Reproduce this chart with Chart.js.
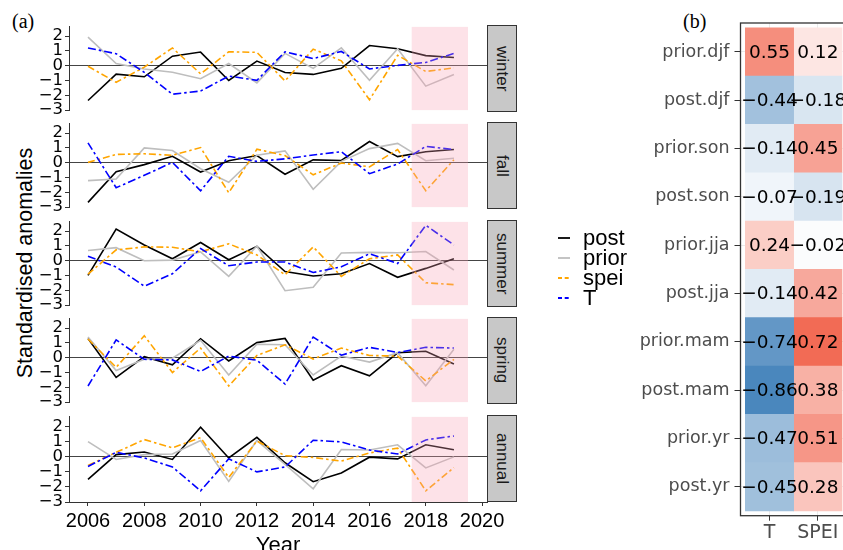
<!DOCTYPE html>
<html>
<head>
<meta charset="utf-8">
<script src="https://cdn.jsdelivr.net/npm/chart.js@4.4.1/dist/chart.umd.min.js"></script>
<style>
html,body{margin:0;padding:0;background:#fff;}
body{width:843px;height:550px;overflow:hidden;position:relative;font-family:"Liberation Sans",Arial,sans-serif;}
canvas{position:absolute;}
.strip{position:absolute;left:487px;width:30px;height:87px;background:#c8c8c8;border:1px solid #333;box-sizing:border-box;
  writing-mode:vertical-rl;display:flex;align-items:center;justify-content:center;font-size:17px;color:#1a1a1a;}
.tag{position:absolute;font-family:"Liberation Serif",serif;font-size:20px;line-height:24px;}
.ytitle{position:absolute;left:25px;top:263px;transform:translate(-50%,-50%) rotate(-90deg);white-space:nowrap;font-size:21.5px;}
.leg{position:absolute;left:558px;height:20px;display:flex;align-items:center;}
.leg span{margin-left:13px;font-size:22px;line-height:20px;}
</style>
</head>
<body>
<div class="tag" style="left:12px;top:9px">(a)</div>
<div class="tag" style="left:683px;top:9px">(b)</div>
<div class="ytitle">Standardised anomalies</div>
<script>
// ---- data (a) ----
const years = [2006,2007,2008,2009,2010,2011,2012,2013,2014,2015,2016,2017,2018,2019];
const seasons = ['winter','fall','summer','spring','annual'];
const seriesNames = ['post','prior','spei','T'];
const xTicks = [2006,2008,2010,2012,2014,2016,2018,2020];
const yTicks = [-3,-2,-1,0,1,2];
const shadeFrom = 2017.5, shadeTo = 2019.5;

const winterPost  = [-2.35,-0.57,-0.75,0.64,0.92,-1.00,0.31,-0.46,-0.59,-0.18,1.36,1.14,0.68,0.55];
const winterPrior = [1.93,0.15,-0.22,-0.44,-0.88,0.15,-1.16,0.83,-0.18,1.20,-0.99,1.14,-1.38,-0.59];
const winterSpei  = [-0.04,-1.12,-0.10,1.20,-0.55,0.94,0.90,-1.03,1.12,0.33,-2.30,0.70,-0.39,-0.15];
const winterT     = [1.20,0.81,-0.45,-1.93,-1.71,-0.70,-0.99,0.94,0.48,0.96,-0.22,0.02,0.22,0.83];

const fallPost  = [-2.68,-0.61,-0.13,0.43,-0.63,0.13,0.48,-0.78,0.19,0.15,1.43,0.41,0.74,0.89];
const fallPrior = [-1.21,-1.10,1.00,0.82,-0.41,-1.32,0.50,0.80,-1.80,0.09,0.95,1.30,0.13,0.30];
const fallSpei  = [0.02,0.56,0.60,0.50,1.02,-2.03,0.91,0.48,-0.82,-0.02,-0.28,0.89,-1.90,0.20];
const fallT     = [1.34,-1.69,-0.85,0.02,-1.90,0.43,0.09,0.26,0.52,0.74,-0.74,-0.09,1.10,0.89];

const summerPost  = [-0.99,2.13,1.06,0.13,1.23,0.06,0.97,-0.73,-1.03,-0.88,-0.19,-1.12,-0.52,0.13];
const summerPrior = [0.69,0.88,0.00,0.04,0.60,-1.06,0.99,-2.03,-1.79,0.52,0.56,0.54,0.62,-0.63];
const summerSpei  = [-0.91,0.73,0.93,0.91,0.60,1.14,0.39,-0.95,0.93,-1.06,0.13,0.39,-1.49,-1.62];
const summerT     = [0.30,-0.43,-1.72,-0.88,0.82,-0.34,-0.09,-0.09,-0.80,-0.41,0.47,-0.19,2.39,1.06];

const springPost  = [1.30,-1.33,0.07,-0.48,1.28,-0.22,1.02,1.30,-1.52,-0.54,-1.22,0.33,0.43,-0.43];
const springPrior = [1.39,-0.87,-0.11,-0.04,1.17,-1.17,0.91,0.87,-1.17,0.11,-0.30,0.33,-1.89,0.57];
const springSpei  = [1.26,-0.65,1.48,-1.00,0.65,-1.91,0.15,0.87,-0.09,0.65,0.15,0.11,-1.57,-0.11];
const springT     = [-1.91,1.20,-0.11,-0.15,-0.93,0.11,-0.17,-1.78,1.39,0.17,0.70,0.35,0.70,0.65];

const annualPost  = [-1.51,0.13,0.30,-0.19,1.94,-0.09,1.27,-0.41,-1.66,-1.08,-0.04,-0.15,0.78,0.45];
const annualPrior = [0.99,-0.19,0.13,0.17,1.06,-1.64,1.06,-0.52,-2.13,0.47,0.43,0.78,-0.75,-0.02];
const annualSpei  = [-0.58,0.28,1.12,0.58,1.25,-1.38,1.03,0.06,-0.06,-0.30,0.24,0.56,-2.26,-0.73];
const annualT     = [-0.65,0.28,-0.09,-0.69,-2.26,-0.15,-1.01,-0.69,1.08,0.97,0.43,0.17,1.10,1.36];

// ---- data (b) ----
const rowLabels = ['prior.djf','post.djf','prior.son','post.son','prior.jja','post.jja','prior.mam','post.mam','prior.yr','post.yr'];
const colLabels = ['T','SPEI'];
const tCorr    = [0.55,-0.44,-0.14,-0.07,0.24,-0.14,-0.74,-0.86,-0.47,-0.45];
const speiCorr = [0.12,-0.18,0.45,-0.19,-0.02,0.42,0.72,0.38,0.51,0.28];

const facetData = {
  winter:[winterPost,winterPrior,winterSpei,winterT],
  fall:[fallPost,fallPrior,fallSpei,fallT],
  summer:[summerPost,summerPrior,summerSpei,summerT],
  spring:[springPost,springPrior,springSpei,springT],
  annual:[annualPost,annualPrior,annualSpei,annualT]
};

const seriesStyle = {
  post:{color:'#000000',dash:[],order:4},
  prior:{color:'#BEBEBE',dash:[],order:3},
  spei:{color:'#FFA500',dash:[7,3,2.5,3],order:2},
  T:{color:'#0000FF',dash:[8,3,2.5,3],order:1}
};

const minus = v => (v < 0 ? '\u2212' : '') + Math.abs(v);
const fmt2 = v => (v < 0 ? '\u2212' : '') + Math.abs(v).toFixed(2);

const shadePlugin = {
  id:'shade',
  afterDatasetsDraw(chart){
    const {ctx, chartArea:a, scales:{x}} = chart;
    const x0 = x.getPixelForValue(shadeFrom), x1 = x.getPixelForValue(shadeTo);
    ctx.save();
    ctx.fillStyle = 'rgba(250,160,180,0.3)';
    ctx.fillRect(x0, a.top, x1 - x0, a.bottom - a.top);
    ctx.restore();
  }
};

const panelTops = [25,122,220,317,415];

seasons.forEach((season, i) => {
  const last = i === seasons.length - 1;
  const cv = document.createElement('canvas');
  cv.width = 520; cv.height = last ? 160 : 107;
  cv.style.left = '0px'; cv.style.top = (panelTops[i] - 10) + 'px';
  document.body.appendChild(cv);

  const strip = document.createElement('div');
  strip.className = 'strip';
  strip.style.top = panelTops[i] + 'px';
  strip.textContent = season;
  document.body.appendChild(strip);

  new Chart(cv, {
    type:'line',
    data:{
      datasets: seriesNames.map((name, s) => ({
        label:name,
        data: years.map((yr, k) => ({x:yr, y:facetData[season][s][k]})),
        borderColor: seriesStyle[name].color,
        borderDash: seriesStyle[name].dash,
        borderWidth:1.6,
        order: seriesStyle[name].order,
        pointRadius:0,
        tension:0,
        fill:false
      }))
    },
    options:{
      responsive:false, animation:false, devicePixelRatio:1,
      layout:{padding:{top:10,bottom:last?0:10,left:0,right:33}},
      plugins:{legend:{display:false},tooltip:{enabled:false}},
      scales:{
        x:{
          type:'linear', min:2005.325, max:2020.175, display:last,
          afterBuildTicks: s => { s.ticks = xTicks.map(v => ({value:v})); },
          afterFit: s => { s.height = last ? 63 : 0; },
          grid:{drawOnChartArea:false, tickLength:4, tickColor:'#333'},
          border:{display:true, color:'#333', width:1},
          ticks:{font:{family:'Liberation Sans',size:20}, color:'#000', padding:3, maxRotation:0, autoSkip:false,
                 callback: v => String(v)},
          title:{display:last, text:'Year', color:'#000', font:{family:'Liberation Sans',size:22}, padding:{top:0,bottom:6}}
        },
        y:{
          type:'linear', min:-3, max:2.62,
          afterBuildTicks: s => { s.ticks = yTicks.map(v => ({value:v})); },
          afterFit: s => { s.width = 69; },
          grid:{color: c => (c.tick && c.tick.value === 0) ? '#444' : 'rgba(0,0,0,0)', lineWidth:1, tickLength:4, tickColor:'#333'},
          border:{display:true, color:'#333', width:1},
          ticks:{font:{family:'DejaVu Sans',size:16.5}, color:'#000', padding:2, autoSkip:false, callback: v => minus(v)}
        }
      }
    },
    plugins:[shadePlugin]
  });
});

// legend
const legendKeyDash = {post:'', prior:'', spei:'4,2.7', T:'4,2.7'};
seriesNames.forEach((name, i) => {
  const row = document.createElement('div');
  row.className = 'leg';
  row.style.top = (228 + i * 20) + 'px';
  row.innerHTML = '<svg width="12" height="20"><line x1="0" y1="10" x2="12" y2="10" stroke="' + seriesStyle[name].color +
    '" stroke-width="1.8" stroke-dasharray="' + legendKeyDash[name] + '"/></svg><span>' + name + '</span>';
  document.body.appendChild(row);
});

// ---- heatmap (b) ----
function cellColour(v){
  const end = v < 0 ? [44,115,178] : [237,49,19];
  const t = Math.min(Math.abs(v), 1);
  const c = end.map(e => Math.round(255 + (e - 255) * t));
  return 'rgb(' + c.join(',') + ')';
}

const hcv = document.createElement('canvas');
hcv.width = 250; hcv.height = 550;
hcv.style.left = '600px'; hcv.style.top = '0px';
document.body.appendChild(hcv);

const cellText = {
  id:'cellText',
  afterDatasetsDraw(chart){
    const ctx = chart.ctx;
    ctx.save();
    ctx.font = '18.5px "DejaVu Sans"';
    ctx.fillStyle = '#000';
    ctx.textAlign = 'center';
    ctx.textBaseline = 'middle';
    chart.data.datasets.forEach((ds, di) => {
      chart.getDatasetMeta(di).data.forEach((el, k) => {
        const p = el.getCenterPoint();
        ctx.fillText(fmt2(ds.values[k]), p.x, p.y + 1);
      });
    });
    ctx.restore();
  },
  afterDraw(chart){
    const {ctx, chartArea:a} = chart;
    ctx.save();
    ctx.strokeStyle = '#333';
    ctx.lineWidth = 1.3;
    ctx.strokeRect(a.left, a.top, a.right - a.left, a.bottom - a.top);
    ctx.restore();
  }
};

const colValues = [tCorr, speiCorr];
new Chart(hcv, {
  type:'bar',
  data:{
    datasets: colLabels.map((lab, c) => ({
      label: lab,
      values: colValues[c],
      data: rowLabels.map((r, k) => ({y:k + 1, x:[c + 0.5, c + 1.5]})),
      backgroundColor: colValues[c].map(cellColour),
      borderWidth:0,
      grouped:false,
      barPercentage:1,
      categoryPercentage:1
    }))
  },
  options:{
    indexAxis:'y',
    responsive:false, animation:false, devicePixelRatio:1,
    layout:{padding:{top:23,bottom:0,left:0,right:3.2}},
    plugins:{legend:{display:false},tooltip:{enabled:false}},
    scales:{
      x:{
        type:'linear', min:0.4, max:2.6, position:'bottom',
        afterBuildTicks: s => { s.ticks = colLabels.map((l, c) => ({value:c + 1})); },
        afterFit: s => { s.height = 34.3; },
        grid:{color:'#EBEBEB', tickLength:5, tickColor:'#333'},
        border:{display:false},
        ticks:{font:{family:'DejaVu Sans',size:19}, color:'#4D4D4D', padding:1, maxRotation:0, autoSkip:false,
               callback: v => colLabels[Math.round(v) - 1]}
      },
      y:{
        type:'linear', min:0.4, max:10.6, reverse:true, offset:false,
        afterBuildTicks: s => { s.ticks = rowLabels.map((l, k) => ({value:k + 1})); },
        afterFit: s => { s.width = 140.5; },
        grid:{color:'#EBEBEB', tickLength:6, tickColor:'#333', offset:false},
        border:{display:false},
        ticks:{font:{family:'DejaVu Sans',size:17.5}, color:'#4D4D4D', padding:5, autoSkip:false,
               callback: v => rowLabels[Math.round(v) - 1]}
      }
    }
  },
  plugins:[cellText]
});
</script>
</body>
</html>
